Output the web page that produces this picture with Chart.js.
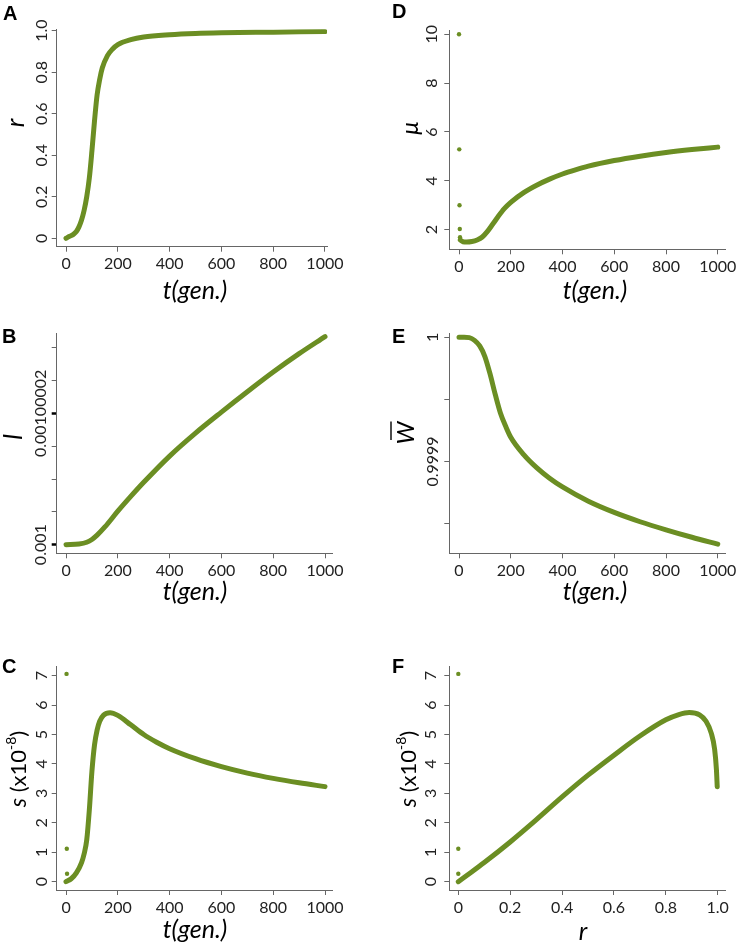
<!DOCTYPE html>
<html>
<head>
<meta charset="utf-8">
<script src="https://cdn.jsdelivr.net/npm/chart.js@4.4.1/dist/chart.umd.min.js"></script>
<style>
  html, body { margin: 0; padding: 0; background: #fff; overflow: hidden; }
  #wrap { position: relative; width: 740px; height: 945px; }
  canvas { position: absolute; }
</style>
</head>
<body>
<div id="wrap"></div>
<script>
// ---- data ----
// A: r against t
const tA = [0, 10, 20, 30, 40, 50, 60, 70, 80, 90, 100, 110, 120, 130, 140, 160, 180, 200, 250, 300, 400, 500, 600, 800, 1000];
const rA = [0.0, 0.007, 0.013, 0.021, 0.033, 0.055, 0.088, 0.135, 0.2, 0.29, 0.42, 0.565, 0.69, 0.765, 0.82, 0.88, 0.912, 0.933, 0.957, 0.97, 0.981, 0.987, 0.99, 0.993, 0.996];

// B: l against t
const tB = [0, 50, 80, 100, 120, 150, 200, 250, 300, 400, 500, 600, 700, 800, 900, 1000];
const lB = [0.001, 0.0010000001, 0.00100000037, 0.0010000008, 0.00100000145, 0.0010000027, 0.0010000051, 0.00100000735,
            0.0010000095, 0.0010000135, 0.001000017, 0.0010000202, 0.0010000233, 0.0010000263, 0.0010000291, 0.0010000317];

// C: s (x1e-8) against t
const tC = [0, 20, 40, 60, 70, 80, 90, 100, 110, 120, 130, 145, 170, 200, 250, 300, 350, 400, 500, 600, 700, 800, 900, 1000];
const sC = [0.0, 0.1, 0.3, 0.65, 0.95, 1.42, 2.44, 3.75, 4.65, 5.15, 5.45, 5.66, 5.74, 5.65, 5.33, 5.0, 4.74, 4.52, 4.18, 3.91, 3.69, 3.51, 3.36, 3.23];
const tCdots = [2, 3, 4];
const sCdots = [7.06, 1.12, 0.27];

// D: mu against t
const tD = [5, 15, 30, 50, 70, 90, 110, 130, 150, 175, 200, 250, 300, 350, 400, 450, 500, 600, 700, 800, 900, 1000];
const muD = [1.58, 1.51, 1.5, 1.52, 1.58, 1.7, 1.93, 2.22, 2.52, 2.86, 3.12, 3.52, 3.82, 4.07, 4.28, 4.45, 4.6, 4.83, 5.01, 5.16, 5.28, 5.38];
const tDdots = [0, 1, 2, 3, 4];
const muDdots = [10.0, 5.29, 3.0, 2.03, 1.69];

// E: mean fitness against t
const tE = [0, 20, 40, 60, 80, 100, 120, 140, 160, 180, 200, 250, 300, 350, 400, 500, 600, 700, 800, 900, 1000];
const wE = [1, 1, 0.9999997, 0.9999975, 0.999993, 0.9999845, 0.9999705, 0.999954, 0.999939, 0.9999285, 0.9999195,
            0.9999055, 0.999895, 0.9998865, 0.9998795, 0.999868, 0.999859, 0.9998515, 0.999845, 0.999839, 0.9998335];

// F: s (x1e-8) against r
const rF = [0, 0.05, 0.1, 0.2, 0.3, 0.4, 0.5, 0.6, 0.7, 0.8, 0.85, 0.89, 0.93, 0.955, 0.975, 0.988, 0.995, 0.998];
const sF = [0, 0.32, 0.65, 1.35, 2.1, 2.88, 3.62, 4.3, 4.95, 5.5, 5.68, 5.75, 5.67, 5.45, 5.05, 4.5, 3.8, 3.23];
const rFdots = [0, 0, 0];
const sFdots = [7.06, 1.12, 0.27];

// tick values and labels
const tTicks = [0, 200, 400, 600, 800, 1000];
const tTickLabels = ['0', '200', '400', '600', '800', '1000'];
const rTicks = [0, 0.2, 0.4, 0.6, 0.8, 1.0];
const rTickLabels = ['0', '0.2', '0.4', '0.6', '0.8', '1.0'];
const lTicks = [0.001, 0.001000005, 0.00100001, 0.001000015, 0.00100002, 0.001000025, 0.00100003];
const lTickLabels = ['0.001', '', '', '', '0.00100002', '', ''];
const sTicks = [0, 1, 2, 3, 4, 5, 6, 7];
const sTickLabels = ['0', '1', '2', '3', '4', '5', '6', '7'];
const muTicks = [2, 4, 6, 8, 10];
const muTickLabels = ['2', '4', '6', '8', '10'];
const wTicks = [0.99985, 0.9999, 0.99995, 1];
const wTickLabels = ['', '0.9999', '', '1'];

// ---- drawing ----
const GREEN = '#6b8e23';
const AXIS = '#666';
const TXT = '#222';
const WY = 40, HX = 40;
const wrap = document.getElementById('wrap');

const pts = (xs, ys) => xs.map((x, i) => ({ x: x, y: ys[i] }));

const curve = (xs, ys) => ({
  data: pts(xs, ys), showLine: true, borderColor: GREEN, borderWidth: 5,
  pointRadius: 0, cubicInterpolationMode: 'monotone', borderCapStyle: 'round',
  borderJoinStyle: 'round', fill: false
});
const dots = (xs, ys) => ({
  data: pts(xs, ys), showLine: false, pointRadius: 2.2, backgroundColor: GREEN, borderWidth: 0
});

function drawParts(ctx, parts, cx, cy, rotate) {
  let w = 0;
  parts.forEach(p => { ctx.font = p.font; p.w = ctx.measureText(p.text).width; w += p.w; });
  ctx.save();
  ctx.translate(cx, cy);
  if (rotate) ctx.rotate(-Math.PI / 2);
  ctx.textAlign = 'left';
  ctx.textBaseline = 'middle';
  let x = -w / 2;
  parts.forEach(p => {
    ctx.font = p.font;
    ctx.fillText(p.text, x, -(p.rise || 0));
    if (p.bar) {
      ctx.beginPath();
      ctx.lineWidth = 1.4;
      ctx.strokeStyle = '#000';
      ctx.moveTo(x + p.w * 0.2, -15);
      ctx.lineTo(x + p.w * 1.0, -15);
      ctx.stroke();
    }
    x += p.w;
  });
  ctx.restore();
}

const panelText = {
  id: 'panelText',
  afterDraw(chart, args, o) {
    const ctx = chart.ctx, a = chart.chartArea, ys = chart.scales.y;
    ctx.save();
    ctx.fillStyle = TXT;
    ctx.font = '16px Lato';
    ctx.textAlign = 'center';
    ctx.textBaseline = 'middle';
    o.yVals.forEach((v, i) => {
      if (!o.yLabels[i]) return;
      ctx.save();
      ctx.translate(a.left - o.yOff, ys.getPixelForValue(v));
      ctx.rotate(-Math.PI / 2);
      ctx.fillText(o.yLabels[i], 0, 0);
      ctx.restore();
    });
    ctx.fillStyle = '#000';
    ctx.font = 'bold 20px "Liberation Sans"';
    ctx.textAlign = 'left';
    ctx.textBaseline = 'alphabetic';
    ctx.fillText(o.letter, o.letterAt[0] - o.ox, o.letterAt[1] - o.oy);
    drawParts(ctx, o.xTitle, o.xAt[0] - o.ox, o.xAt[1] - o.oy, false);
    drawParts(ctx, o.yTitle, o.yAt[0] - o.ox, o.yAt[1] - o.oy, true);
    ctx.restore();
  }
};

function axis(min, max, vals, labels, isX, strong) {
  return {
    type: 'linear', min: min, max: max, bounds: 'data',
    afterBuildTicks: s => { s.ticks = vals.map(v => ({ value: v })); },
    afterFit: s => { if (isX) s.height = HX; else s.width = WY; },
    grid: {
      drawOnChartArea: false, drawTicks: true, tickLength: 5,
      tickColor: c => (strong && labels[c.index]) ? '#000' : AXIS,
      tickWidth: c => (strong && labels[c.index]) ? 2.5 : 1
    },
    border: { display: true, color: AXIS, width: 1 },
    ticks: isX
      ? { font: { family: 'Lato', size: 16 }, color: TXT, padding: 3, maxRotation: 0, autoSkip: false,
          callback: (v, i) => labels[i] }
      : { display: false }
  };
}

const italic = (t, size) => ({ text: t, font: 'italic ' + size + 'px Lato, "Noto Sans"' });
const sTitle = [
  { text: 's', font: 'italic 23px Lato' },
  { text: ' (x10', font: '22px Lato' },
  { text: '-8', font: '14px Lato', rise: 8 },
  { text: ')', font: '22px Lato' }
];
const tTitle = [italic('t(gen.)', 25)];

function panel(p) {
  const [bx, by, bw, bh] = p.box;
  const [al, at, ar, ab] = p.area;
  const cv = document.createElement('canvas');
  cv.width = bw; cv.height = bh;
  cv.style.left = bx + 'px'; cv.style.top = by + 'px';
  wrap.appendChild(cv);
  p.text.ox = bx; p.text.oy = by;
  p.text.yVals = p.y[2]; p.text.yLabels = p.y[3];
  new Chart(cv, {
    type: 'scatter',
    data: { datasets: p.datasets },
    options: {
      responsive: false, animation: false, events: [],
      layout: { padding: { left: al - bx - WY, top: at - by, right: bx + bw - ar, bottom: by + bh - ab - HX } },
      plugins: { legend: { display: false }, tooltip: { enabled: false }, panelText: p.text },
      scales: {
        x: axis(p.x[0], p.x[1], p.x[2], p.x[3], true, false),
        y: axis(p.y[0], p.y[1], p.y[2], p.y[3], false, p.strong)
      }
    },
    plugins: [panelText]
  });
}

panel({
  box: [0, 0, 370, 305], area: [56.7, 29.3, 327, 246.7],
  x: [-36, 1008, tTicks, tTickLabels], y: [-0.0405, 1.0067, rTicks, rTickLabels],
  datasets: [curve(tA, rA)],
  text: { letter: 'A', letterAt: [3, 20], xTitle: tTitle, xAt: [195, 291],
          yTitle: [italic('r', 25)], yAt: [16, 123], yOff: 15 }
});
panel({
  box: [370, 0, 370, 305], area: [449.3, 30.7, 725, 249.3],
  x: [-37.5, 1028, tTicks, tTickLabels], y: [1.198, 10.146, muTicks, muTickLabels],
  datasets: [curve(tD, muD), dots(tDdots, muDdots)],
  text: { letter: 'D', letterAt: [392, 18], xTitle: tTitle, xAt: [595, 291],
          yTitle: [italic('μ', 24)], yAt: [410, 128], yOff: 17.5 }
});
panel({
  box: [0, 305, 370, 315], area: [56.7, 333.3, 332.7, 553.3],
  x: [-36, 1029.7, tTicks, tTickLabels], y: [0.00099999869, 0.0010000322, lTicks, lTickLabels], strong: true,
  datasets: [curve(tB, lB)],
  text: { letter: 'B', letterAt: [2, 343], xTitle: tTitle, xAt: [195, 592],
          yTitle: [italic('l', 25)], yAt: [14, 437], yOff: 15.5 }
});
panel({
  box: [370, 305, 370, 315], area: [449.3, 333.3, 725, 553.3],
  x: [-37.5, 1028, tTicks, tTickLabels], y: [0.9998261, 1.0000032, wTicks, wTickLabels],
  datasets: [curve(tE, wE)],
  text: { letter: 'E', letterAt: [392, 343], xTitle: tTitle, xAt: [595, 592],
          yTitle: [{ text: 'W', font: 'italic 24px Lato', bar: true }], yAt: [406, 433], yOff: 16 }
});
panel({
  box: [0, 620, 370, 325], area: [56.7, 666.7, 332.7, 890],
  x: [-36, 1029.7, tTicks, tTickLabels], y: [-0.282, 7.305, sTicks, sTickLabels],
  datasets: [curve(tC, sC), dots(tCdots, sCdots)],
  text: { letter: 'C', letterAt: [2, 673], xTitle: tTitle, xAt: [195, 930],
          yTitle: sTitle, yAt: [19, 769], yOff: 15 }
});
panel({
  box: [370, 620, 370, 325], area: [449.3, 666.7, 725, 890],
  x: [-0.0347, 1.028, rTicks, rTickLabels], y: [-0.282, 7.305, sTicks, sTickLabels],
  datasets: [curve(rF, sF), dots(rFdots, sFdots)],
  text: { letter: 'F', letterAt: [392, 673], xTitle: [italic('r', 25)], xAt: [583, 932],
          yTitle: sTitle, yAt: [409, 769], yOff: 18 }
});
</script>
</body>
</html>
